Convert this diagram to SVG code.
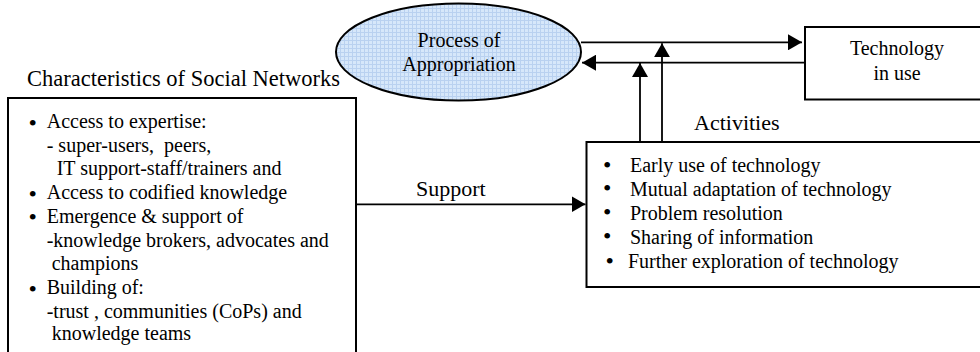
<svg xmlns="http://www.w3.org/2000/svg" width="980" height="352" viewBox="0 0 980 352">
<style>
  text { font-family: "Liberation Serif", "Times New Roman", serif; }
  .t20 { font-size: 20px; }
  .t22 { font-size: 22px; }
  .b { font-size: 24px; }
  .box { fill: #fff; stroke: #000; stroke-width: 2; }
  .conn { fill: none; stroke: #000; stroke-width: 1.8; }
</style>
<defs>
  <pattern id="grid" width="4" height="4" patternUnits="userSpaceOnUse">
    <rect width="4" height="4" fill="#d6e7fa"/>
    <path d="M0 0.5H4M0.5 0V4" stroke="#b9d1f0" stroke-width="1"/>
  </pattern>
  <marker id="ah" viewBox="0 0 14 16" refX="14" refY="8" markerWidth="14" markerHeight="16" markerUnits="userSpaceOnUse" orient="auto">
    <path d="M0 0L14 8L0 16Z" fill="#000"/>
  </marker>
</defs>
<g fill="#000">
<g id="title">
  <text x="27" y="86" font-size="22.5">Characteristics of Social Networks</text>
</g>

<g id="social-networks">
  <rect class="box" x="8" y="98" width="348" height="270"/>
  <text class="b" x="28.5" y="131">•</text>
  <text class="t20" x="46.7" y="128.3">Access to expertise:</text>
  <text class="t20" x="46.7" y="151.7" xml:space="preserve">- super-users,  peers,</text>
  <text class="t20" x="56.7" y="175">IT support-staff/trainers and</text>
  <text class="b" x="28.5" y="201.7">•</text>
  <text class="t20" x="46.7" y="199">Access to codified knowledge</text>
  <text class="b" x="28.5" y="225.4">•</text>
  <text class="t20" x="46.7" y="222.7">Emergence &amp; support of</text>
  <text class="t20" x="46.7" y="246.7">-knowledge brokers, advocates and</text>
  <text class="t20" x="51.7" y="270">champions</text>
  <text class="b" x="28.5" y="296.7">•</text>
  <text class="t20" x="46.7" y="294">Building of:</text>
  <text class="t20" x="46.7" y="317.5">-trust , communities (CoPs) and</text>
  <text class="t20" x="51.7" y="339.5">knowledge teams</text>
</g>

<g id="process">
  <ellipse cx="458.5" cy="52" rx="122.5" ry="48.5" fill="url(#grid)" stroke="#000" stroke-width="2"/>
  <text class="t20" x="459" y="47" text-anchor="middle">Process of</text>
  <text class="t20" x="459" y="71" text-anchor="middle">Appropriation</text>
</g>

<g id="technology">
  <rect class="box" x="805" y="27" width="190" height="72.5"/>
  <text class="t20" x="897" y="55" text-anchor="middle">Technology</text>
  <text class="t20" x="897" y="80" text-anchor="middle">in use</text>
</g>

<g id="activities">
  <rect class="box" x="586.5" y="142" width="410" height="145"/>
  <text class="b" x="603" y="172.5">•</text>
  <text class="t20" x="630" y="171.7">Early use of technology</text>
  <text class="b" x="603" y="196.3">•</text>
  <text class="t20" x="630" y="195.5">Mutual adaptation of technology</text>
  <text class="b" x="603" y="220.3">•</text>
  <text class="t20" x="630" y="219.5">Problem resolution</text>
  <text class="b" x="603" y="244.3">•</text>
  <text class="t20" x="630" y="243.5">Sharing of information</text>
  <text class="b" x="605.5" y="268.8">•</text>
  <text class="t20" x="628" y="268">Further exploration of technology</text>
</g>

<g id="connectors">
  <line class="conn" x1="581" y1="42.3" x2="802" y2="42.3" marker-end="url(#ah)"/>
  <line class="conn" x1="805" y1="62.7" x2="582" y2="62.7" marker-end="url(#ah)"/>
  <line class="conn" x1="640" y1="142" x2="640" y2="63" marker-end="url(#ah)"/>
  <line class="conn" x1="662" y1="142" x2="662" y2="43.2" marker-end="url(#ah)"/>
  <line class="conn" x1="356" y1="204.3" x2="585.5" y2="204.3" marker-end="url(#ah)"/>
  <text class="t22" x="416" y="195.7">Support</text>
  <text class="t22" x="694" y="130">Activities</text>
</g>
</g>
</svg>
